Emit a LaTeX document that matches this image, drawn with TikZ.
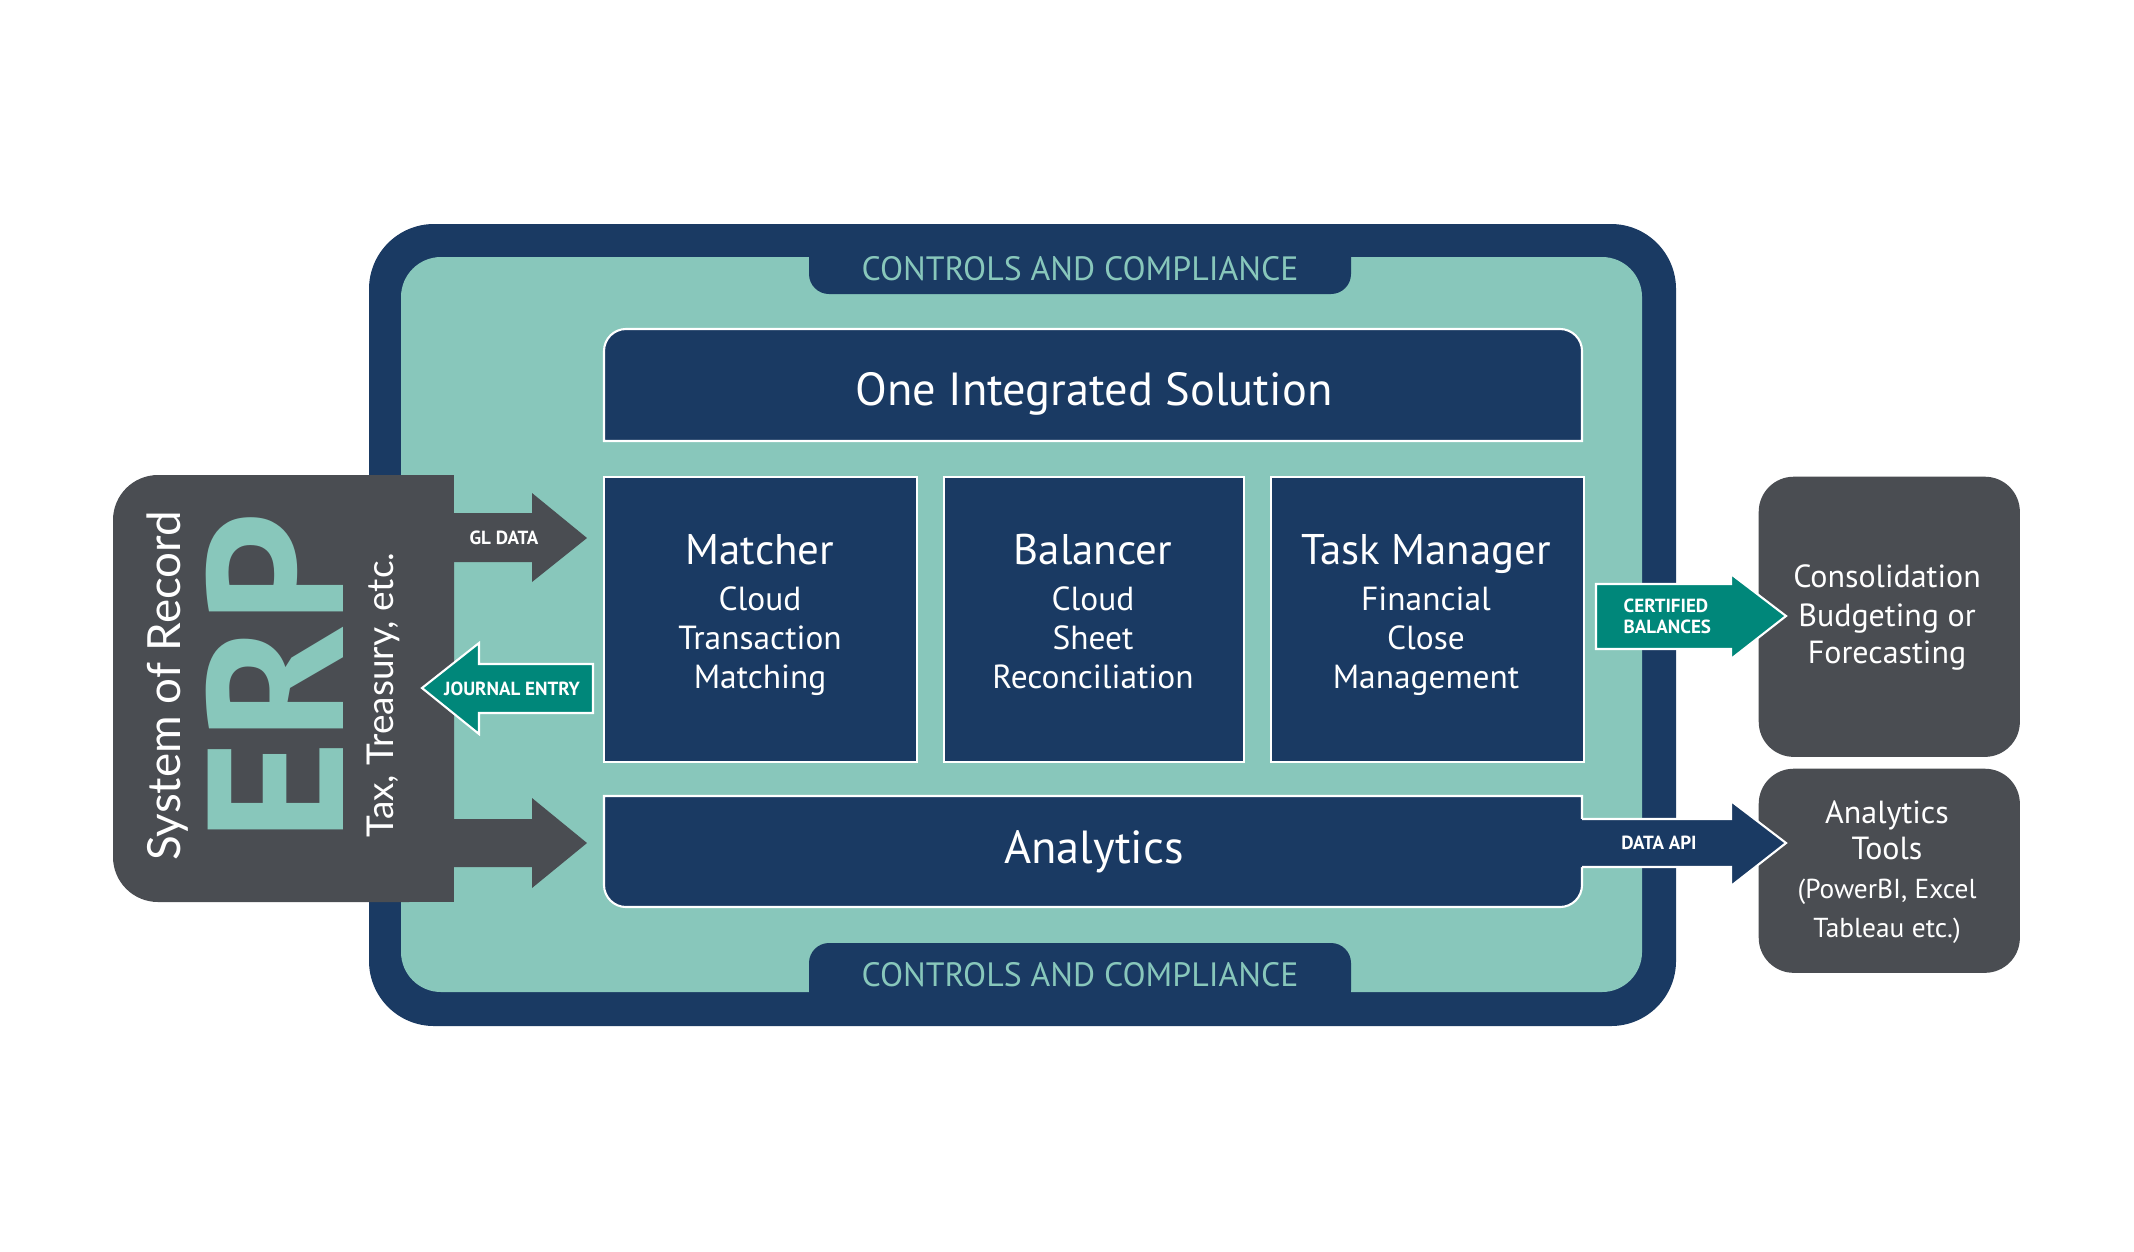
\documentclass[tikz,border=0pt]{standalone}
\usepackage{fontspec}
\setmainfont{PT Sans}
\newfontfamily\lightfont{Lato}
\definecolor{navy}{HTML}{1A3A63}
\definecolor{tealL}{HTML}{88C7BB}
\definecolor{tealD}{HTML}{00877A}
\definecolor{greyD}{HTML}{4A4D52}
\begin{document}
\begin{tikzpicture}[x=0.01cm,y=-0.01cm,
  txt/.style={inner sep=0pt, anchor=base, text=white},
  navybox/.style={draw=white, line width=0.6pt, fill=navy, inner sep=0pt, anchor=north west},
  greybox/.style={fill=greyD, rounded corners=0.35cm, inner sep=0pt, anchor=north west},
  boxtitle/.style={txt, font=\fontsize{12.2}{14}\selectfont},
  boxsub/.style={txt, font=\fontsize{9.5}{11}\selectfont},
  bigtitle/.style={txt, font=\fontsize{13.2}{15}\selectfont},
  ctrl/.style={inner sep=0pt, anchor=base, text=tealL, font=\fontsize{9.6}{11}\selectfont},
  arrlabel/.style={txt, font=\fontsize{5.4}{6.2}\selectfont\bfseries},
  outtxt/.style={txt, font=\fontsize{9.1}{11}\selectfont},
  outsmall/.style={txt, font=\fontsize{7.8}{9}\selectfont},
  blockarrow/.style={draw=white, line width=0.6pt}
  ]
\useasboundingbox[fill=white] (0,0) rectangle (2134,1251);
% outer frame
\fill[navy, rounded corners=0.65cm] (369,224) rectangle (1676,1026);
\fill[tealL, rounded corners=0.4cm] (401,257) rectangle (1642,992);
% tabs
\fill[navy, rounded corners=0.2cm] (809,230) rectangle (1351,294);
\fill[navy, rounded corners=0.2cm] (809,943) rectangle (1351,1010);
\node[ctrl] (ctrltop) at (1080,280) {CONTROLS AND COMPLIANCE};
\node[ctrl] (ctrlbot) at (1080,986) {CONTROLS AND COMPLIANCE};

% One Integrated Solution box (top corners rounded)
\draw[fill=navy, draw=white, line width=0.6pt] (604,441) -- (604,351)
  arc[start angle=180, end angle=90, radius=0.22cm] -- (1560,329)
  arc[start angle=90, end angle=0, radius=0.22cm] -- (1582,441) -- cycle;
\node[bigtitle] (ois) at (1094,405) {One Integrated Solution};

% Analytics box (bottom corners rounded)
\draw[fill=navy, draw=white, line width=0.6pt] (604,796) -- (604,885)
  arc[start angle=180, end angle=270, radius=0.22cm] -- (1560,907)
  arc[start angle=270, end angle=360, radius=0.22cm] -- (1582,796) -- cycle;
\node[bigtitle] (ana) at (1094,863) {Analytics};

% three product boxes
\node[navybox, minimum width=3.13cm, minimum height=2.85cm] (matcher) at (603,476) {};
\node[navybox, minimum width=3.00cm, minimum height=2.85cm] (balancer) at (943,476) {};
\node[navybox, minimum width=3.13cm, minimum height=2.85cm] (taskmgr) at (1270,476) {};
\foreach \cx/\t/\a/\b/\c/\n in {760/Matcher/Cloud/Transaction/Matching/m,
    1093/Balancer/Cloud/Sheet/Reconciliation/b,
    1426/Task Manager/Financial/Close/Management/t}{
  \node[boxtitle] (\n t) at (\cx,564) {\t};
  \node[boxsub] (\n a) at (\cx,610) {\a};
  \node[boxsub] (\n b) at (\cx,649) {\b};
  \node[boxsub] (\n c) at (\cx,688) {\c};
}

% ERP box
\fill[greyD, rounded corners=0.45cm] (113,475) rectangle (454,902);
\fill[greyD] (300,475) rectangle (454,902);
\node[rotate=90, inner sep=0pt, anchor=base, text=tealL,
  font=\fontsize{55}{55}\selectfont\bfseries] (erp) at (343,677) {ERP};
\node[txt, rotate=90, font=\lightfont\fontsize{13}{15}\selectfont] (sor) at (180,686) {System of Record};
\node[txt, rotate=90, font=\lightfont\fontsize{10.5}{12}\selectfont] (tax) at (393,695) {Tax, Treasury, etc.};

% right boxes (drawn before the arrows that overlap them)
\node[greybox, minimum width=2.61cm, minimum height=2.80cm] (cons) at (1758,476) {};
\node[outtxt] (c1) at (1887,587) {Consolidation};
\node[outtxt] (c2) at (1887,626) {Budgeting or};
\node[outtxt] (c3) at (1887,663) {Forecasting};
\node[greybox, minimum width=2.61cm, minimum height=2.04cm] (tools) at (1758,768) {};
\node[outtxt] (t1) at (1887,823) {Analytics};
\node[outtxt] (t2) at (1887,859) {Tools};
\node[outsmall] (t3) at (1887,898) {(PowerBI, Excel};
\node[outsmall] (t4) at (1887,937) {Tableau etc.)};

% GL DATA arrow
\fill[greyD] (440,513) -- (532,513) -- (532,493) -- (587,538) -- (532,582) -- (532,562) -- (440,562) -- cycle;
\node[arrlabel] (gl) at (504,544) {GL DATA};
% bottom arrow
\fill[greyD] (440,819) -- (532,819) -- (532,798) -- (587,843) -- (532,888) -- (532,867) -- (440,867) -- cycle;
% JOURNAL ENTRY arrow
\draw[blockarrow, fill=tealD] (593,664) -- (479,664) -- (479,643) -- (422,688) -- (479,734) -- (479,713) -- (593,713) -- cycle;
\node[arrlabel] (je) at (512,695) {JOURNAL ENTRY};

% CERTIFIED BALANCES arrow
\draw[blockarrow, fill=tealD] (1596,584) -- (1731,584) -- (1731,574) -- (1786,616) -- (1731,659) -- (1731,649) -- (1596,649) -- cycle;
\node[arrlabel, anchor=base west] (cert) at (1623,612) {CERTIFIED};
\node[arrlabel, anchor=base west] (bal) at (1623,633) {BALANCES};

% DATA API arrow
\fill[navy] (1578,819) -- (1731,819) -- (1731,801) -- (1786,843) -- (1731,886) -- (1731,867) -- (1578,867) -- cycle;
\draw[white, line width=0.6pt] (1582,819) -- (1731,819) -- (1731,801) -- (1786,843) -- (1731,886) -- (1731,867) -- (1582,867);
\node[arrlabel] (api) at (1659,849) {DATA API};
\end{tikzpicture}
\end{document}
